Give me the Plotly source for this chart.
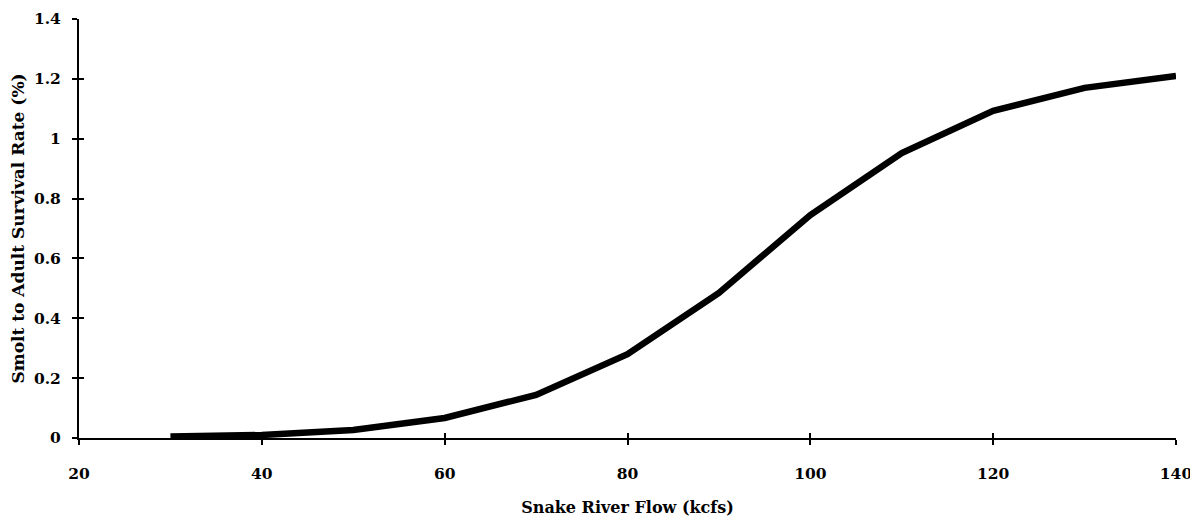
import plotly.graph_objects as go

flow = [30, 40, 50, 60, 70, 80, 90, 100, 110, 120, 130, 140]
survival = [0.005, 0.01, 0.027, 0.067, 0.144, 0.28, 0.485, 0.745, 0.952, 1.093, 1.17, 1.21]

x_ticks = [20, 40, 60, 80, 100, 120, 140]
y_ticks = [0, 0.2, 0.4, 0.6, 0.8, 1.0, 1.2, 1.4]
y_labels = ["0", "0.2", "0.4", "0.6", "0.8", "1", "1.2", "1.4"]

FONT = "DejaVu Serif"

fig = go.Figure()
fig.add_trace(go.Scatter(x=flow, y=survival, mode="lines",
                         line=dict(color="black", width=6.5), showlegend=False))
fig.add_trace(go.Scatter(x=[20], y=[0], xaxis="x2", yaxis="y2", mode="markers",
                         marker=dict(opacity=0), showlegend=False, hoverinfo="skip"))

fig.update_layout(
    width=1190, height=509,
    margin=dict(l=71, r=22, t=11, b=79, autoexpand=False),
    plot_bgcolor="white", paper_bgcolor="white",
    font=dict(family=FONT, color="black", size=15),
    xaxis=dict(range=[20, 140], tickvals=x_ticks, ticktext=[str(v) for v in x_ticks],
               showgrid=False, zeroline=False, showline=True, linecolor="black", linewidth=2,
               ticks="outside", ticklen=5, tickwidth=2, tickcolor="black",
               ticklabelstandoff=15, automargin=False,
               tickfont=dict(family=FONT, size=15.5, weight="bold"),
               title=dict(text="Snake River Flow (kcfs)", standoff=22,
                          font=dict(family=FONT, size=16, weight="bold"))),
    yaxis=dict(range=[0, 1.4], tickvals=y_ticks, ticktext=y_labels,
               showgrid=False, zeroline=False, showline=True, linecolor="black", linewidth=2,
               ticks="outside", ticklen=5, tickwidth=2, tickcolor="black",
               ticklabelstandoff=8, automargin=False,
               tickfont=dict(family=FONT, size=15.5, weight="bold"),
               title=dict(text="Smolt to Adult Survival Rate (%)", standoff=10,
                          font=dict(family=FONT, size=17, weight="bold"))),
    xaxis2=dict(range=[20, 140], overlaying="x", tickvals=x_ticks, showticklabels=False,
                showgrid=False, zeroline=False, ticks="inside", ticklen=5, tickwidth=2,
                tickcolor="black", side="bottom"),
    yaxis2=dict(range=[0, 1.4], overlaying="y", tickvals=y_ticks, showticklabels=False,
                showgrid=False, zeroline=False, ticks="inside", ticklen=5, tickwidth=2,
                tickcolor="black", side="left"),
)

fig.write_html("out.html")
